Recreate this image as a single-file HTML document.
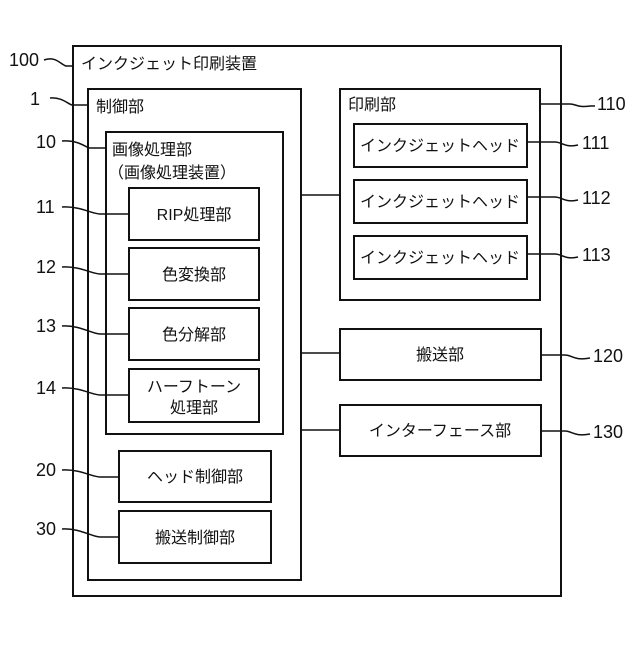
<!DOCTYPE html>
<html><head><meta charset="utf-8"><style>
html,body{margin:0;padding:0;background:#fff;}
svg text{font-family:"Liberation Sans","Noto Sans CJK JP",sans-serif;fill:#111;}
</style></head><body>
<svg width="640" height="640" viewBox="0 0 640 640" xmlns="http://www.w3.org/2000/svg">
<g fill="none" stroke="#111" stroke-width="2">
<rect x="73" y="46" width="488" height="550"/>
<rect x="88" y="89" width="213" height="491"/>
<rect x="106" y="132" width="177" height="302"/>
<rect x="129" y="188" width="130" height="52"/>
<rect x="129" y="248" width="130" height="52"/>
<rect x="129" y="308" width="130" height="52"/>
<rect x="129" y="369" width="130" height="53"/>
<rect x="119" y="451" width="152" height="51"/>
<rect x="119" y="511" width="152" height="52"/>
<rect x="340" y="89" width="200" height="211"/>
<rect x="354" y="124" width="173" height="43"/>
<rect x="354" y="180" width="173" height="43"/>
<rect x="354" y="236" width="173" height="43"/>
<rect x="340" y="329" width="201" height="51"/>
<rect x="340" y="405" width="201" height="51"/>
</g>
<g fill="none" stroke="#111" stroke-width="1.5">
<path d="M301 195 H340 M301 353 H340 M301 430 H340"/>
<path d="M44 60 C56 56 60 64 66 66 H73"/>
<path d="M50 98 C62 97 68 104 72 105 H88"/>
<path d="M62 141 C80 140 86 148 90 148 H106"/>
<path d="M62 207 C80 206 92 214 100 214 H129"/>
<path d="M62 267 C80 266 92 274 100 274 H129"/>
<path d="M62 326 C80 325 92 334 100 334 H129"/>
<path d="M62 388 C80 387 92 395 100 395 H129"/>
<path d="M62 470 C80 469 92 477 100 477 H119"/>
<path d="M62 529 C80 528 92 537 100 537 H119"/>
<path d="M540 104 H570 C576 104 578 108 590 106 H595"/>
<path d="M527 142 H555 C562 142 565 148 578 145"/>
<path d="M527 197 H555 C562 197 565 203 578 200"/>
<path d="M527 254 H555 C562 254 565 260 578 257"/>
<path d="M541 355 H565 C572 355 574 361 590 358"/>
<path d="M541 431 H565 C572 431 574 437 590 434"/>
</g>
<g font-size="18">
<text x="9" y="66">100</text>
<text x="30" y="105">1</text>
<text x="36" y="148">10</text>
<text x="36" y="213">11</text>
<text x="36" y="273">12</text>
<text x="36" y="332">13</text>
<text x="36" y="394">14</text>
<text x="36" y="476">20</text>
<text x="36" y="535">30</text>
<text x="597" y="110">110</text>
<text x="582" y="149">111</text>
<text x="582" y="204">112</text>
<text x="582" y="261">113</text>
<text x="593" y="362">120</text>
<text x="593" y="438">130</text>
</g>
<g font-size="16">
<text x="81" y="69">インクジェット印刷装置</text>
<text x="96" y="112">制御部</text>
<text x="112" y="155">画像処理部</text>
<text x="108" y="178">（画像処理装置）</text>
<text x="348" y="110">印刷部</text>
</g>
<g font-size="16" text-anchor="middle">
<text x="194" y="220">RIP処理部</text>
<text x="194" y="280">色変換部</text>
<text x="194" y="340">色分解部</text>
<text x="194" y="392">ハーフトーン</text>
<text x="194" y="413">処理部</text>
<text x="195" y="482">ヘッド制御部</text>
<text x="195" y="543">搬送制御部</text>
<text x="440" y="151">インクジェットヘッド</text>
<text x="440" y="207">インクジェットヘッド</text>
<text x="440" y="263">インクジェットヘッド</text>
<text x="440" y="360">搬送部</text>
<text x="440" y="436">インターフェース部</text>
</g>
</svg>
</body></html>
